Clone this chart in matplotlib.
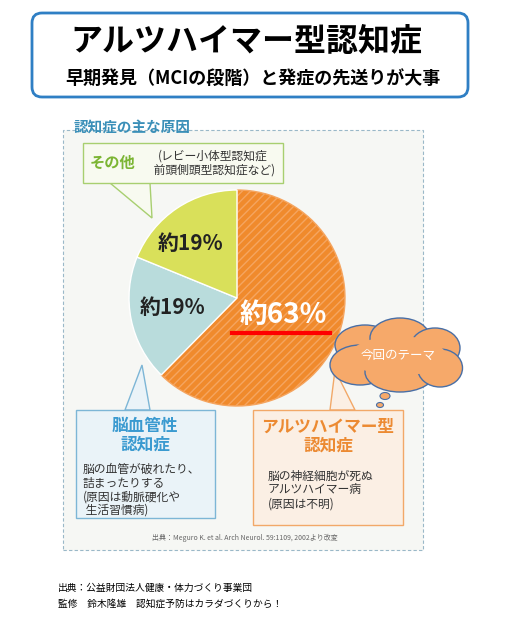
import matplotlib
matplotlib.use("Agg")
import matplotlib.pyplot as plt
from matplotlib.patches import FancyBboxPatch, Rectangle, Ellipse, Polygon

plt.rcParams['font.family'] = ['Noto Sans CJK JP', 'DejaVu Sans']

categories = ["アルツハイマー型認知症", "脳血管性認知症", "その他"]
values = [63, 19, 19]
pct_labels = ["約63%", "約19%", "約19%"]
colors = ["#f08a2c", "#b9dcdc", "#d9e05a"]

W, H = 505, 629
fig = plt.figure(figsize=(5.05, 6.29), dpi=100)
ax = fig.add_axes([0, 0, 1, 1])
Y = lambda y: H - y

# title box
ax.add_patch(FancyBboxPatch((32, Y(97)), 436, 84, boxstyle="round,pad=0,rounding_size=10",
                            fc="white", ec="#2f7fc4", lw=2))
ax.text(246, Y(42), "アルツハイマー型認知症", ha='center', va='center', fontsize=23, fontweight='bold')
ax.text(253, Y(78), "早期発見（MCIの段階）と発症の先送りが大事", ha='center', va='center', fontsize=13, fontweight='bold')

# chart panel
ax.add_patch(Rectangle((63, Y(550)), 360, 420, fc="#f6f7f4", ec="#9ab8c8", lw=0.8, ls=(0, (3, 2))))
ax.text(74, Y(127), "認知症の主な原因", ha='left', va='center', fontsize=10.5, fontweight='bold', color="#3a8fb8")

# pie
cx, cy, r = 237, Y(298), 108
wedges, _ = ax.pie(values, colors=colors, startangle=90, counterclock=False,
                   center=(cx, cy), radius=r, wedgeprops=dict(ec='white', lw=1))
wedges[0].set_hatch('////'); wedges[0].set_edgecolor('#f5a560')
ax.text(283, Y(315), pct_labels[0], ha='center', va='center', fontsize=20, color='white', fontweight='bold')
ax.text(172, Y(307), pct_labels[1], ha='center', va='center', fontsize=15, color='#222', fontweight='bold')
ax.text(190, Y(243), pct_labels[2], ha='center', va='center', fontsize=15, color='#222', fontweight='bold')
ax.plot([232, 330], [Y(333), Y(333)], color='red', lw=3)

# その他 box
ax.add_patch(Polygon([[110, Y(183)], [150, Y(183)], [152, Y(218)]], fc="#f8faf0", ec="#a8cf70", lw=1))
ax.add_patch(Rectangle((83, Y(183)), 200, 40, fc="#f8faf0", ec="#a8cf70", lw=1))
ax.text(113, Y(163), "その他", ha='center', va='center', fontsize=11, fontweight='bold', color="#7cb534")
ax.text(213, Y(163), "(レビー小体型認知症\n 前頭側頭型認知症など)", ha='center', va='center', fontsize=8.5, color='#333', linespacing=1.1)

# blue box
ax.add_patch(Polygon([[125, Y(410)], [150, Y(410)], [142, Y(365)]], fc="#eaf3f8", ec="#7db6d6", lw=1))
ax.add_patch(Rectangle((76, Y(518)), 139, 108, fc="#eaf3f8", ec="#7db6d6", lw=1))
ax.text(145, Y(435), "脳血管性\n認知症", ha='center', va='center', fontsize=12, fontweight='bold', color="#3a9ad0", linespacing=1.05)
ax.text(83, Y(490), "脳の血管が破れたり、\n詰まったりする\n(原因は動脈硬化や\n 生活習慣病)", ha='left', va='center', fontsize=8.5, color='#333', linespacing=1.05)

# orange box
ax.add_patch(Polygon([[330, Y(410)], [355, Y(410)], [335, Y(370)]], fc="#fbefe4", ec="#f2a868", lw=1))
ax.add_patch(Rectangle((253, Y(525)), 150, 115, fc="#fbefe4", ec="#f2a868", lw=1))
ax.text(328, Y(436), "アルツハイマー型\n認知症", ha='center', va='center', fontsize=12, fontweight='bold', color="#ec8a32", linespacing=1.05)
ax.text(268, Y(490), "脳の神経細胞が死ぬ\nアルツハイマー病\n(原因は不明)", ha='left', va='center', fontsize=8.5, color='#333', linespacing=1.1)
ax.text(245, Y(538), "出典：Meguro K. et al. Arch Neurol. 59:1109, 2002より改変", ha='center', va='center', fontsize=5, color='#666')

# cloud
for (ex, ey, w, h) in [(365, 345, 60, 40), (400, 338, 60, 40), (435, 348, 50, 40),
                       (360, 365, 60, 40), (400, 372, 70, 40), (440, 368, 45, 38)]:
    ax.add_patch(Ellipse((ex, Y(ey)), w, h, fc="#f6a96a", ec="#4a6fa5", lw=1))
ax.add_patch(Ellipse((398, Y(356)), 96, 40, fc="#f6a96a", ec="none"))
ax.add_patch(Ellipse((385, Y(396)), 10, 7, fc="#f6a96a", ec="#4a6fa5", lw=0.8))
ax.add_patch(Ellipse((380, Y(405)), 7, 5, fc="#f6a96a", ec="#4a6fa5", lw=0.8))
ax.text(398, Y(355), "今回のテーマ", ha='center', va='center', fontsize=9, color='white')

ax.text(58, Y(588), "出典：公益財団法人健康・体力づくり事業団", ha='left', va='center', fontsize=7)
ax.text(58, Y(604), "監修　鈴木隆雄　認知症予防はカラダづくりから！", ha='left', va='center', fontsize=7)

ax.set_xlim(0, W); ax.set_ylim(0, H); ax.set_aspect('auto'); ax.axis('off')
fig.savefig("out.png", dpi=100)
